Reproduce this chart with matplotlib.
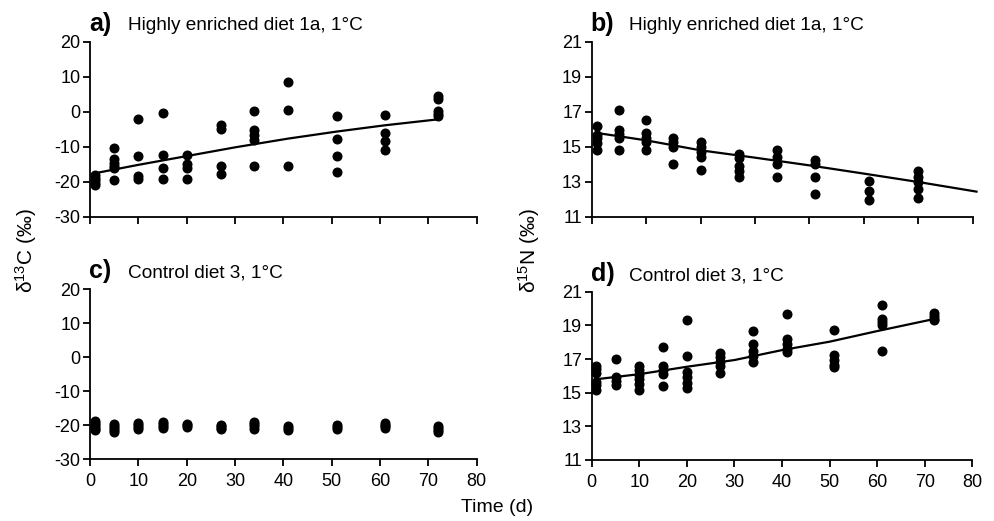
import matplotlib
matplotlib.use('Agg')
import matplotlib.pyplot as plt

matplotlib.rcParams.update({'font.family': 'Liberation Sans', 'font.size': 12,
                            'mathtext.default': 'regular',
                            'axes.unicode_minus': False})

# sampling days
days = [1, 5, 10, 15, 20, 27, 34, 41, 51, 61, 72]
days_b = [1, 5, 10, 15, 20, 27, 34, 41, 51, 60]

# a) d13C, highly enriched diet 1a
c13_enriched = [
    [-18, -18.8, -19.5, -20.2, -21],
    [-10.3, -13.5, -14.5, -15.3, -16, -19.3],
    [-2, -12.7, -18.2, -19.2],
    [-0.3, -12.2, -16, -19.2],
    [-12.2, -14.8, -16, -19.2],
    [-3.6, -4.8, -15.4, -17.8],
    [0.2, -5.2, -6.5, -8.1, -15.4],
    [8.5, 0.7, -15.4],
    [-1.1, -7.8, -12.6, -17.1],
    [-0.8, -6, -8.3, -10.8],
    [4.5, 3.8, 0.3, -0.5, -1.2],
]
fit_a_days = [1, 10, 20, 30, 41, 51, 61, 72]
fit_a = [-17.5, -15.1, -12.6, -10.1, -7.6, -5.6, -3.8, -2.1]

# b) d15N, highly enriched diet 1a
n15_enriched = [
    [16.2, 15.7, 15.5, 15.2, 14.8],
    [17.1, 15.95, 15.75, 15.5, 14.8],
    [16.55, 15.8, 15.5, 15.3, 14.85],
    [15.5, 15.3, 15.0, 14.0],
    [15.3, 15.0, 14.7, 14.45, 13.7],
    [14.6, 14.35, 13.9, 13.6, 13.3],
    [14.85, 14.45, 14.05, 13.3],
    [14.25, 14.0, 13.3, 12.3],
    [13.05, 12.5, 11.95],
    [13.6, 13.3, 13.0, 12.6, 12.1],
]
fit_b_days = [1, 10, 20, 30, 40, 50, 60, 70.7]
fit_b = [15.8, 15.38, 14.81, 14.39, 13.95, 13.48, 13.0, 12.45]

# c) d13C, control diet 3
c13_control = [
    [-18.6, -19.2, -19.8, -20.4, -21.0, -21.3],
    [-19.5, -20.2, -20.8, -21.5, -21.9],
    [-19.2, -19.8, -20.4, -21.0],
    [-19.0, -19.6, -20.2, -20.8],
    [-19.5, -20.0, -20.5],
    [-19.8, -20.3, -20.8, -21.2],
    [-19.0, -19.6, -20.3, -21.0],
    [-20.2, -20.7, -21.3],
    [-20.0, -20.5, -21.0],
    [-19.3, -19.8, -20.3, -20.7],
    [-20.2, -20.8, -21.4, -21.9],
]

# d) d15N, control diet 3
n15_control = [
    [16.6, 16.4, 16.15, 15.65, 15.45, 15.15],
    [17.0, 15.95, 15.7, 15.45],
    [16.6, 16.35, 16.05, 15.8, 15.5, 15.15],
    [17.7, 16.6, 16.35, 16.1, 15.4],
    [19.3, 17.15, 16.2, 15.95, 15.6, 15.3],
    [17.35, 17.1, 16.85, 16.6, 16.15],
    [18.65, 17.9, 17.45, 17.2, 16.8],
    [19.65, 18.2, 17.9, 17.6, 17.4],
    [18.75, 17.25, 16.95, 16.65, 16.5],
    [20.2, 19.4, 19.2, 19.0, 17.45],
    [19.75, 19.55, 19.35, 19.3],
]
fit_d_days = [1, 10, 20, 30, 40, 50, 60, 71]
fit_d = [15.8, 16.1, 16.54, 16.94, 17.53, 18.03, 18.66, 19.32]

titles = ['Highly enriched diet 1a, 1°C', 'Highly enriched diet 1a, 1°C',
          'Control diet 3, 1°C', 'Control diet 3, 1°C']
letters = ['a)', 'b)', 'c)', 'd)']

fig = plt.figure(figsize=(9.95, 5.21), dpi=100)
ax_a = fig.add_axes([0.0905, 0.5835, 0.3886, 0.3359])
ax_b = fig.add_axes([0.5947, 0.5835, 0.3829, 0.3359])
ax_c = fig.add_axes([0.0905, 0.1184, 0.3886, 0.3263])
ax_d = fig.add_axes([0.5947, 0.1171, 0.3825, 0.3230])


def scatter_groups(ax, xs, groups):
    for x, vals in zip(xs, groups):
        ax.plot([x] * len(vals), vals, 'o', color='black', markersize=6.2,
                clip_on=False, zorder=3)


scatter_groups(ax_a, days, c13_enriched)
ax_a.plot(fit_a_days, fit_a, color='black', lw=1.6)
scatter_groups(ax_b, days_b, n15_enriched)
ax_b.plot(fit_b_days, fit_b, color='black', lw=1.6, clip_on=False)
scatter_groups(ax_c, days, c13_control)
scatter_groups(ax_d, days, n15_control)
ax_d.plot(fit_d_days, fit_d, color='black', lw=1.6)

for ax in (ax_a, ax_c):
    ax.set_ylim(-30, 20)
    ax.set_yticks(range(-30, 21, 10))
for ax in (ax_b, ax_d):
    ax.set_ylim(11, 21)
    ax.set_yticks(range(11, 22, 2))
ax_a.set_xlim(0, 80)
ax_a.set_xticks(range(0, 81, 10))
ax_b.set_xlim(0, 70)
ax_b.set_xticks(range(0, 71, 10))
for ax in (ax_c, ax_d):
    ax.set_xlim(0, 80)
    ax.set_xticks(range(0, 81, 10))
ax_a.set_xticklabels([])
ax_b.set_xticklabels([])

for ax, letter, title in zip((ax_a, ax_b, ax_c, ax_d), letters, titles):
    for s in ('top', 'right'):
        ax.spines[s].set_visible(False)
    for s in ('left', 'bottom'):
        ax.spines[s].set_linewidth(1.3)
    ax.tick_params(direction='out', length=5, width=1.3, labelsize=13, pad=2)
    ax.tick_params(axis='x', pad=5)
    ax.text(-0.003, 1.035, letter, transform=ax.transAxes, fontsize=18,
            fontweight='bold', ha='left', va='bottom')
    ax.text(0.098, 1.045, title, transform=ax.transAxes, fontsize=13.7,
            ha='left', va='bottom')

fig.text(0.026, 0.52, 'δ$^{13}$C (‰)', rotation=90, ha='center', va='center',
         fontsize=15)
fig.text(0.532, 0.52, 'δ$^{15}$N (‰)', rotation=90, ha='center', va='center',
         fontsize=15)
fig.text(0.5, 0.025, 'Time (d)', ha='center', va='center', fontsize=14)

plt.savefig('out.png', dpi=100)
